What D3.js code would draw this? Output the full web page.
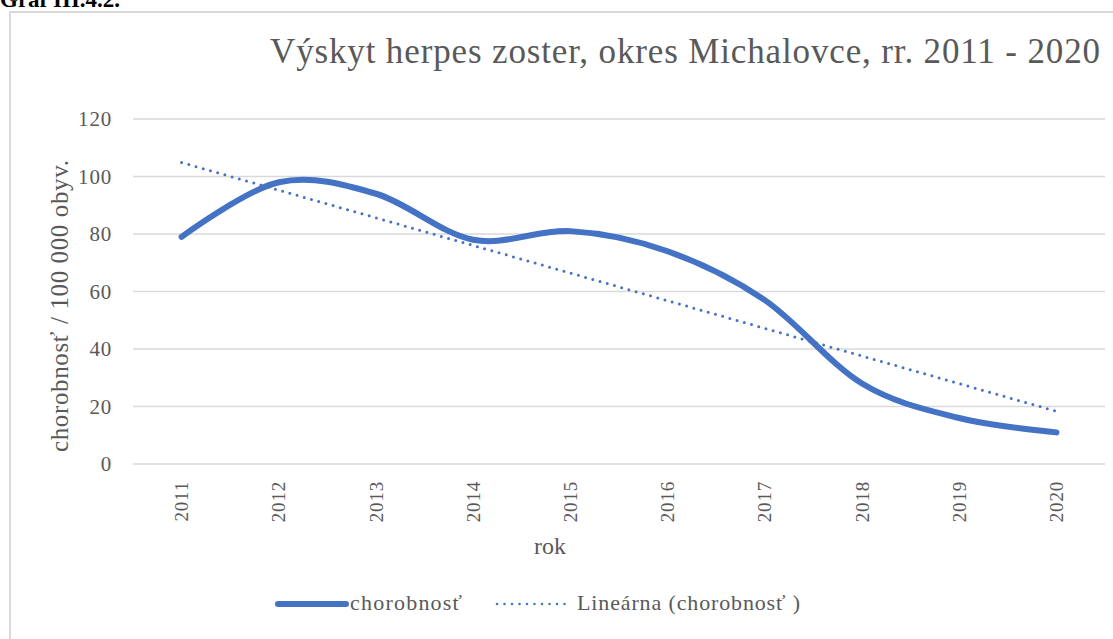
<!DOCTYPE html>
<html>
<head>
<meta charset="utf-8">
<script src="https://cdn.jsdelivr.net/npm/d3@7"></script>
<style>
  body { margin: 0; background: #fff; }
  text { font-family: 'Liberation Serif', 'Times New Roman', serif; }
</style>
</head>
<body>
<svg id="chart" width="1113" height="639"></svg>
<script>
// chart data
const years = ['2011', '2012', '2013', '2014', '2015', '2016', '2017', '2018', '2019', '2020'];
const chorobnost = [79, 98, 94, 78, 81, 74, 57, 28, 16, 11];
const yTicks = [0, 20, 40, 60, 80, 100, 120];

const titleText = 'Výskyt herpes zoster, okres Michalovce, rr. 2011 - 2020';
const yTitle = 'chorobnosť / 100 000 obyv.';
const xTitle = 'rok';
const legendLabels = ['chorobnosť', 'Lineárna (chorobnosť )'];

const blue = '#4472C4';
const grey = '#595959';
const gridColor = '#d9d9d9';

const plot = { left: 133, right: 1105, top: 119, bottom: 464 };

const svg = d3.select('#chart');

// caption above the chart frame (cut by the top edge, as in the source)
svg.append('text')
    .attr('x', 0)
    .attr('y', 7)
    .attr('font-size', 23)
    .attr('font-weight', 'bold')
    .attr('fill', '#000')
    .text('Graf III.4.2.');

// chart frame
svg.append('rect')
    .attr('x', 10)
    .attr('y', 12)
    .attr('width', 1130)
    .attr('height', 660)
    .attr('fill', 'none')
    .attr('stroke', gridColor)
    .attr('stroke-width', 2);

const x = d3.scaleBand()
    .domain(years)
    .range([plot.left, plot.right]);

const y = d3.scaleLinear()
    .domain([0, 120])
    .range([plot.bottom, plot.top]);

// gridlines
svg.append('g')
    .selectAll('line')
    .data(yTicks)
    .enter()
    .append('line')
        .attr('x1', plot.left)
        .attr('x2', plot.right)
        .attr('y1', d => y(d))
        .attr('y2', d => y(d))
        .attr('stroke', gridColor)
        .attr('stroke-width', 1.5);

// y axis labels
const yAxis = svg.append('g')
    .attr('transform', `translate(${plot.left - 21},0)`)
    .call(d3.axisLeft(y).tickValues(yTicks).tickSize(0).tickPadding(0));
yAxis.select('.domain').remove();
yAxis.selectAll('text')
    .attr('font-family', "'Liberation Serif', serif")
    .attr('font-size', 21)
    .attr('letter-spacing', 0.8)
    .attr('fill', grey);

// x axis labels (rotated)
const xAxis = svg.append('g')
    .attr('transform', `translate(0,${plot.bottom})`)
    .call(d3.axisBottom(x).tickSize(0).tickPadding(0));
xAxis.select('.domain').remove();
xAxis.selectAll('text')
    .attr('font-family', "'Liberation Serif', serif")
    .attr('font-size', 19)
    .attr('letter-spacing', 0.8)
    .attr('fill', grey)
    .attr('transform', 'rotate(-90)')
    .attr('text-anchor', 'end')
    .attr('x', -17)
    .attr('y', 0)
    .attr('dy', '0.35em');

// title
svg.append('text')
    .attr('x', 270)
    .attr('y', 63)
    .attr('font-size', 35)
    .attr('textLength', 830)
    .attr('lengthAdjust', 'spacing')
    .attr('fill', grey)
    .text(titleText);

// axis titles
svg.append('text')
    .attr('transform', 'translate(68,306) rotate(-90)')
    .attr('text-anchor', 'middle')
    .attr('font-size', 25)
    .attr('textLength', 292)
    .attr('lengthAdjust', 'spacing')
    .attr('fill', grey)
    .text(yTitle);

svg.append('text')
    .attr('x', 550)
    .attr('y', 554)
    .attr('text-anchor', 'middle')
    .attr('font-size', 24)
    .attr('fill', grey)
    .text(xTitle);

const cx = d => x(d) + x.bandwidth() / 2;

// linear trend (least squares over the series)
const idx = chorobnost.map((_, i) => i + 1);
const mx = d3.mean(idx);
const my = d3.mean(chorobnost);
const slope = d3.sum(idx, (t, i) => (t - mx) * (chorobnost[i] - my)) / d3.sum(idx, t => (t - mx) ** 2);
const intercept = my - slope * mx;

svg.append('line')
    .attr('x1', cx(years[0]))
    .attr('y1', y(intercept + slope * 1))
    .attr('x2', cx(years[years.length - 1]))
    .attr('y2', y(intercept + slope * years.length))
    .attr('stroke', blue)
    .attr('stroke-width', 3)
    .attr('stroke-linecap', 'round')
    .attr('stroke-dasharray', '0 7.5');

// smoothed series
const line = d3.line()
    .x((d, i) => cx(years[i]))
    .y(d => y(d))
    .curve(d3.curveCardinal.tension(0));

svg.append('path')
    .datum(chorobnost)
    .attr('d', line)
    .attr('fill', 'none')
    .attr('stroke', blue)
    .attr('stroke-width', 6)
    .attr('stroke-linecap', 'round')
    .attr('stroke-linejoin', 'round');

// legend
const legend = svg.append('g').attr('transform', 'translate(0,604)');
legend.append('line')
    .attr('x1', 278).attr('x2', 346)
    .attr('y1', 0).attr('y2', 0)
    .attr('stroke', blue)
    .attr('stroke-width', 6)
    .attr('stroke-linecap', 'round');
legend.append('text')
    .attr('x', 350)
    .attr('y', 6)
    .attr('font-size', 22)
    .attr('textLength', 112)
    .attr('lengthAdjust', 'spacing')
    .attr('fill', grey)
    .text(legendLabels[0]);
legend.append('line')
    .attr('x1', 497).attr('x2', 565)
    .attr('y1', 0).attr('y2', 0)
    .attr('stroke', blue)
    .attr('stroke-width', 2.5)
    .attr('stroke-linecap', 'round')
    .attr('stroke-dasharray', '0 7.5');
legend.append('text')
    .attr('x', 577)
    .attr('y', 6)
    .attr('font-size', 22)
    .attr('textLength', 223)
    .attr('lengthAdjust', 'spacing')
    .attr('fill', grey)
    .text(legendLabels[1]);
</script>
</body>
</html>
